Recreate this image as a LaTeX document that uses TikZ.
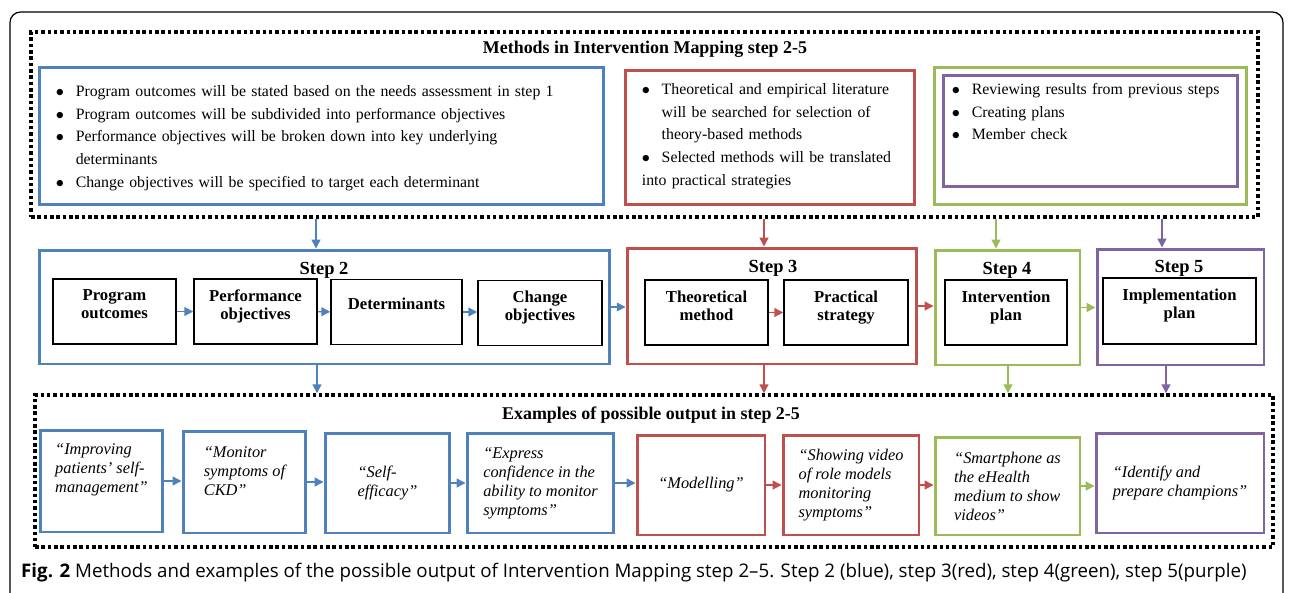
\documentclass[tikz,border=0pt]{standalone}
\usepackage{fontspec}
\setmainfont{Liberation Serif}
\newfontfamily\capfont{Open Sans}
\usetikzlibrary{arrows.meta,positioning}
\definecolor{cblue}{RGB}{79,129,189}
\definecolor{cred}{RGB}{192,80,77}
\definecolor{cgreen}{RGB}{155,187,89}
\definecolor{cpurple}{RGB}{128,100,162}
\newcommand{\bitem}[1]{\par\noindent\hangindent=11.3pt\hangafter=1\makebox[11.3pt][l]{$\bullet$}#1}

\begin{document}
\begin{tikzpicture}[x=0.02cm,y=-0.02cm,
	dotbox/.style={draw,line width=2pt,dash pattern=on 2pt off 1.6pt},
	cbox/.style={draw=#1,line width=1.7pt,inner sep=0pt},
	sub/.style={draw,line width=0.9pt,align=center,minimum height=1.30cm,text depth=8pt,font=\fontsize{9.5}{10.2}\selectfont\bfseries},
	list/.style={anchor=north west,align=left,inner sep=0pt,font=\fontsize{9}{12.9}\selectfont},
	ex/.style={cbox=#1,align=left,minimum height=2cm,font=\fontsize{9.3}{10.8}\selectfont\itshape},
	steplab/.style={font=\fontsize{10.5}{12}\selectfont\bfseries},
	boxtitle/.style={font=\fontsize{10.2}{12}\selectfont\bfseries},
	arr/.style={draw=#1,line width=0.8pt,-{Triangle[length=5pt,width=5pt]}}]
		\useasboundingbox (0,0) rectangle (1292,592);
		\draw[line width=0.7pt,rounded corners=6pt] (10,640) |- (1283,12) -- (1283,640);

		\node[dotbox,minimum width=24.54cm,minimum height=3.70cm] (mdots) at (644.5,124.5) {};
		\node[boxtitle] (mtitle) at (645,49) {Methods in Intervention Mapping step 2-5};
		\node[cbox=cblue,minimum width=11.30cm,minimum height=2.76cm] (m2) at (321.5,136) {};
		\node[list,text width=10.6cm] (m2t) at ([shift={(18,8)}]m2.north west) {%
			\bitem{Program outcomes will be stated based on the needs assessment in step 1}
			\bitem{Program outcomes will be subdivided into performance objectives}
			\bitem{Performance objectives will be broken down into key underlying\newline determinants}
			\bitem{Change objectives will be specified to target each determinant}};
		\node[cbox=cred,minimum width=5.80cm,minimum height=2.70cm] (m3) at (770,137.5) {};
		\node[list,text width=5.2cm] (m3t) at ([shift={(18,3)}]m3.north west) {%
			\bitem{Theoretical and empirical literature\newline will be searched for selection of\newline theory-based methods}
			\bitem{Selected methods will be translated\newline into practical strategies}};
		\node[cbox=cgreen,minimum width=6.26cm,minimum height=2.76cm] (m4) at (1090.5,136) {};
		\node[cbox=cpurple,minimum width=5.90cm,minimum height=2.24cm] (m5) at (1090.5,131) {};
		\node[list,text width=5.6cm] (m5t) at ([shift={(10,-2)}]m5.north west) {%
			\bitem{Reviewing results from previous steps}
			\bitem{Creating plans}
			\bitem{Member check}};

		\node[cbox=cblue,minimum width=11.42cm,minimum height=2.28cm] (s2) at (324.5,307) {};
		\node[steplab] (s2lab) at (324,270) {Step 2};
		\node[sub,minimum width=2.46cm] (po) at (114.5,311.5) {Program\\outcomes};
		\node[sub,minimum width=2.46cm] (pe) at (255.5,311.5) {Performance\\objectives};
		\node[sub,minimum width=2.62cm,text depth=9pt] (de) at (396.5,312) {Determinants};
		\node[sub,minimum width=2.48cm] (co) at (540,313) {Change\\objectives};
		\node[cbox=cred,minimum width=5.80cm,minimum height=2.32cm] (s3) at (772,306) {};
		\node[steplab] (s3lab) at (773,268) {Step 3};
		\node[sub,minimum width=2.46cm] (tm) at (706.5,312.5) {Theoretical\\method};
		\node[sub,minimum width=2.48cm] (ps) at (846,312.5) {Practical\\strategy};
		\node[cbox=cgreen,minimum width=2.90cm,minimum height=2.30cm] (s4) at (1007.5,307.5) {};
		\node[steplab] (s4lab) at (1007,270) {Step 4};
		\node[sub,minimum width=2.44cm] (ip) at (1006,312.5) {Intervention\\plan};
		\node[cbox=cpurple,minimum width=3.34cm,minimum height=2.32cm] (s5) at (1180.5,307) {};
		\node[steplab] (s5lab) at (1179,268) {Step 5};
		\node[sub,minimum width=3.06cm,minimum height=1.32cm] (mp) at (1179.5,311) {Implementation\\plan};

		\node[dotbox,minimum width=24.76cm,minimum height=3.04cm] (edots) at (654,471) {};
		\node[boxtitle] (etitle) at (651,415) {Examples of possible output in step 2-5};
		\node[ex=cblue,minimum width=2.46cm,minimum height=2.04cm,text depth=14.4pt] (e1) at (101.5,481) {“Improving\\patients’ self-\\management”};
		\node[ex=cblue,minimum width=2.46cm,minimum height=2.04cm,text depth=12.4pt] (e2) at (244.5,482) {“Monitor\\symptoms of\\CKD”};
		\node[ex=cblue,minimum width=2.50cm] (e3) at (387.5,483) {“Self-\\efficacy”};
		\node[ex=cblue,minimum width=2.94cm] (e4) at (540.5,483) {“Express\\confidence in the\\ability to monitor\\symptoms”};
		\node[ex=cred,minimum width=2.56cm] (e5) at (701,485) {“Modelling”};
		\node[ex=cred,minimum width=2.72cm] (e6) at (851,485) {“Showing video\\of role models\\monitoring\\symptoms”};
		\node[ex=cgreen,minimum width=2.90cm,minimum height=1.96cm] (e7) at (1007.5,486) {“Smartphone as\\the eHealth\\medium to show\\videos”};
		\node[ex=cpurple,minimum width=3.36cm] (e8) at (1180,483) {“Identify and\\prepare champions”};

		\node[anchor=west,font=\capfont\fontsize{10.65}{13}\selectfont] (cap) at (15,573) {\textbf{Fig. 2} Methods and examples of the possible output of Intervention Mapping step 2–5. Step 2 (blue), step 3(red), step 4(green), step 5(purple)};

		\draw[arr=cblue] (316,0 |- mdots.south) -- (316,0 |- s2.north);
		\draw[arr=cred] (764,0 |- mdots.south) -- (764,0 |- s3.north);
		\draw[arr=cgreen] (996,0 |- mdots.south) -- (996,0 |- s4.north);
		\draw[arr=cpurple] (1162,0 |- mdots.south) -- (1162,0 |- s5.north);
		\draw[arr=cblue] (po) -- (pe);
		\draw[arr=cblue] (pe) -- (de);
		\draw[arr=cblue] (de.east) -- (de.east -| co.west);
		\draw[arr=cred] (tm) -- (ps);
		\draw[arr=cblue] (s2.east) -- (s2.east -| s3.west);
		\draw[arr=cred] (s3.east) -- (s3.east -| s4.west);
		\draw[arr=cgreen] (s4.east) -- (s4.east -| s5.west);
		\draw[arr=cblue] (317,0 |- s2.south) -- (317,0 |- edots.north);
		\draw[arr=cred] (764,0 |- s3.south) -- (764,0 |- edots.north);
		\draw[arr=cgreen] (1008,0 |- s4.south) -- (1008,0 |- edots.north);
		\draw[arr=cpurple] (1166,0 |- s5.south) -- (1166,0 |- edots.north);
		\draw[arr=cblue] (e1.east) -- (e1.east -| e2.west);
		\draw[arr=cblue] (e2.east) -- (e2.east -| e3.west);
		\draw[arr=cblue] (e3.east) -- (e3.east -| e4.west);
		\draw[arr=cblue] (e4.east) -- (e4.east -| e5.west);
		\draw[arr=cred] (e5.east) -- (e5.east -| e6.west);
		\draw[arr=cred] (e6.east) -- (e6.east -| e7.west);
		\draw[arr=cgreen] (e7.east) -- (e7.east -| e8.west);
	\end{tikzpicture}
\end{document}
